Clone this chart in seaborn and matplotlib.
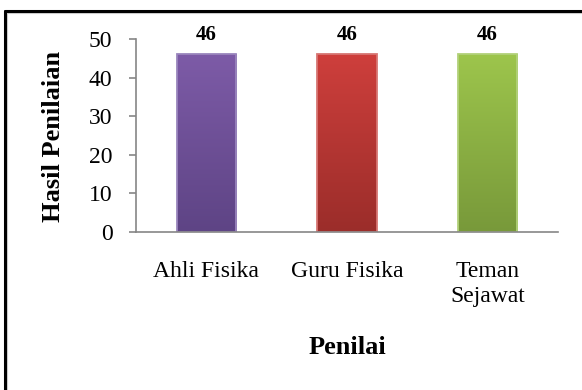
import numpy as np
import pandas as pd
import seaborn as sns
import matplotlib.pyplot as plt
from matplotlib.colors import LinearSegmentedColormap
from matplotlib.lines import Line2D

categories = ["Ahli Fisika", "Guru Fisika", "Teman\nSejawat"]
values = [46, 46, 46]
top_colors = ["#7D5BA7", "#CE3F3C", "#9DC54C"]
bottom_colors = ["#5E4485", "#9B2D2A", "#78993A"]
edge_colors = ["#9A86BD", "#D77673", "#B2D17A"]
y_ticks = [0, 10, 20, 30, 40, 50]

sns.set_theme(style="white")
plt.rcParams['font.family'] = ['Liberation Serif', 'DejaVu Serif']

W, H = 582, 390
fig = plt.figure(figsize=(W / 100, H / 100), dpi=100)
ax = fig.add_axes([136 / W, 1 - 232 / H, (558 - 136) / W, (232 - 39) / H])

df = pd.DataFrame({"Penilai": categories, "Hasil": values})
sns.barplot(data=df, x="Penilai", y="Hasil", hue="Penilai", palette=top_colors,
            width=0.42, saturation=1, legend=False, ax=ax)

grad = np.linspace(0, 1, 256).reshape(-1, 1)
for i, patch in enumerate(ax.patches):
    x0 = patch.get_x()
    w = patch.get_width()
    h = patch.get_height()
    cmap = LinearSegmentedColormap.from_list(f"g{i}", [bottom_colors[i], top_colors[i]])
    im = ax.imshow(grad, extent=[x0, x0 + w, 0, h], origin="lower", aspect="auto",
                   cmap=cmap, zorder=2)
    im.set_clip_path(patch)
    patch.set_facecolor("none")
    patch.set_edgecolor(edge_colors[i])
    patch.set_linewidth(1.3)
    patch.set_zorder(3)

for cont in ax.containers:
    ax.bar_label(cont, fmt="%d", padding=7, fontsize=15, fontweight="bold", color="black")

ax.set_xlim(-0.5, 2.5)
ax.set_ylim(0, 50)
ax.set_yticks(y_ticks)
ax.set_xlabel("")
ax.set_ylabel("")
for s in ["top", "right"]:
    ax.spines[s].set_visible(False)
for s in ["left", "bottom"]:
    ax.spines[s].set_color("#868686")
    ax.spines[s].set_linewidth(1.2)
    ax.spines[s].set_zorder(4)
ax.tick_params(axis="y", left=True, length=5, width=1.2, color="#868686",
               direction="out", pad=12, labelsize=17, labelcolor="black")
ax.tick_params(axis="x", bottom=False, length=0, pad=21, labelsize=17, labelcolor="black")
for lbl in ax.get_xticklabels():
    lbl.set_linespacing(1.25)

fig.text(54 / W, 1 - 136 / H, "Hasil Penilaian", rotation=90, ha="center", va="center",
         fontsize=19, fontweight="bold", color="black")
fig.text(347 / W, 1 - 347 / H, "Penilai", ha="center", va="center",
         fontsize=19, fontweight="bold", color="black")

# chart frame (left and top edges with soft shadow)
fig.add_artist(Line2D([7 / W, 7 / W], [0, 1 - 13 / H], transform=fig.transFigure,
                      color="#d0d0d0", lw=1.5))
fig.add_artist(Line2D([7 / W, 1], [1 - 13 / H, 1 - 13 / H], transform=fig.transFigure,
                      color="#d0d0d0", lw=1.5))
fig.add_artist(Line2D([5 / W, 5 / W], [0, 1 - 11 / H], transform=fig.transFigure,
                      color="black", lw=2.2))
fig.add_artist(Line2D([5 / W, 1], [1 - 11 / H, 1 - 11 / H], transform=fig.transFigure,
                      color="black", lw=2.2))

fig.savefig("out.png", dpi=100)
